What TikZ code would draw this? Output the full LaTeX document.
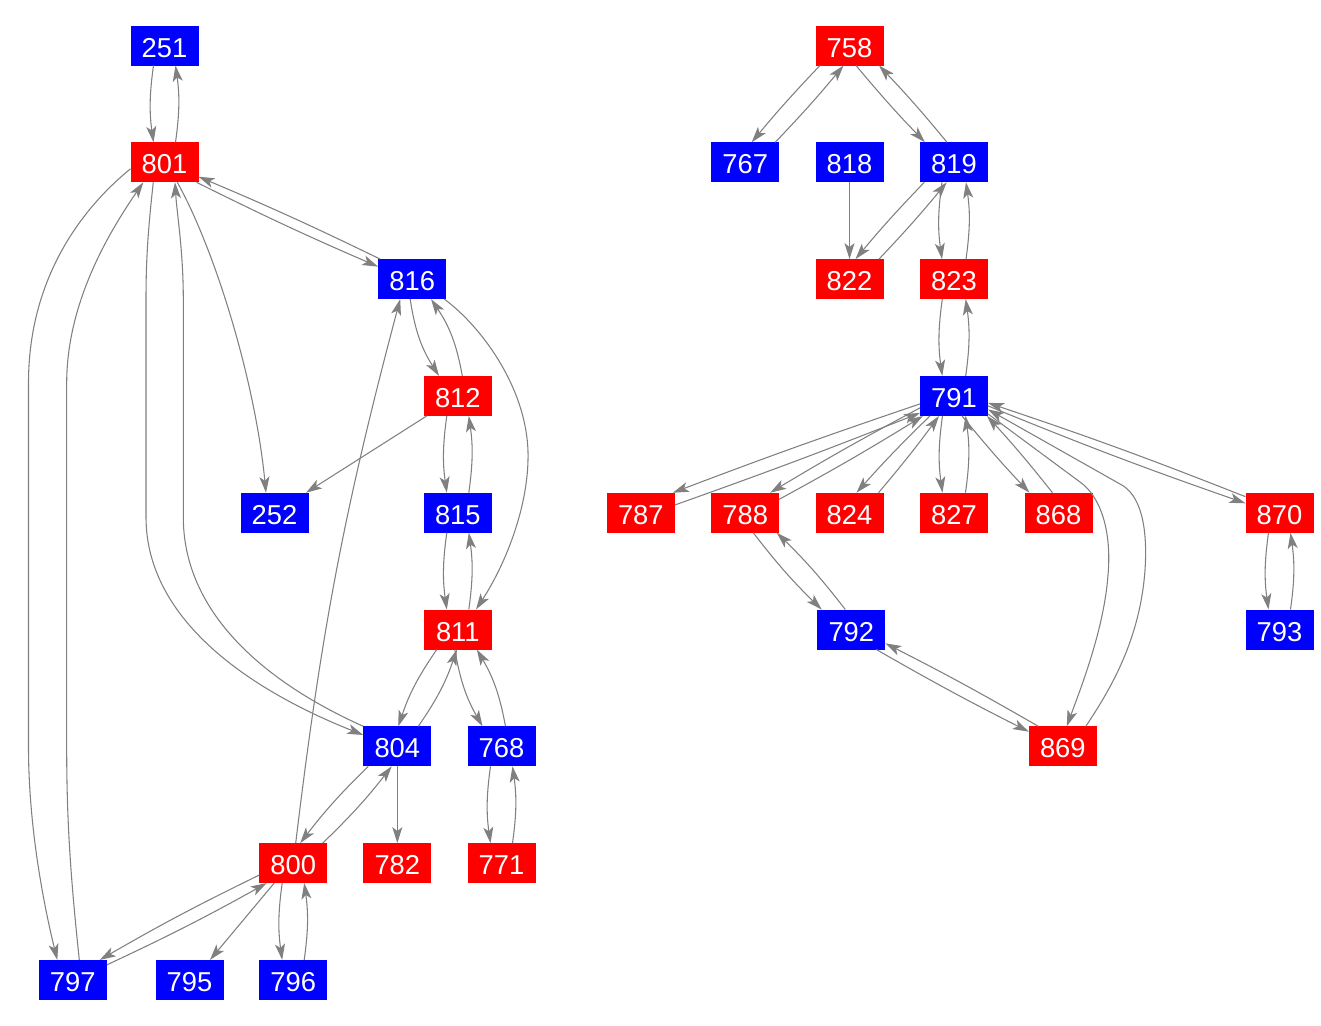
\documentclass[tikz,border=0pt]{standalone}
\usepackage{fontspec}
\setmainfont{Liberation Sans}
\usetikzlibrary{arrows.meta,calc}
\definecolor{edgegray}{RGB}{128,128,128}
\definecolor{nblue}{RGB}{0,0,255}
\definecolor{nred}{RGB}{255,0,0}
\begin{document}
\begin{tikzpicture}[x=0.75pt,y=0.75pt,
  nd/.style={minimum width=51pt, minimum height=30pt, inner sep=0pt, outer sep=0pt,
    text=white, font=\fontsize{20.5}{24}\selectfont, text height=17.3pt, text depth=0pt},
  bnode/.style={nd, fill=nblue},
  rnode/.style={nd, fill=nred},
  e/.style={draw=edgegray, line width=0.8pt,
    -{Stealth[length=12pt,width=7.5pt,inset=3pt]}}]
\useasboundingbox (0,0) rectangle (1321,-1025);
% ---------- left component ----------
\node[bnode] (n251) at (164.5,-45.5) {251};
\node[rnode] (n801) at (164.5,-162.3) {801};
\node[bnode] (n816) at (412.2,-279.1) {816};
\node[rnode] (n812) at (457.8,-395.9) {812};
\node[bnode] (n252) at (274.5,-512.7) {252};
\node[bnode] (n815) at (457.8,-512.7) {815};
\node[rnode] (n811) at (457.8,-629.5) {811};
\node[bnode] (n804) at (397.3,-746.3) {804};
\node[bnode] (n768) at (501.5,-746.3) {768};
\node[rnode] (n800) at (293.2,-863.1) {800};
\node[rnode] (n782) at (397.3,-863.1) {782};
\node[rnode] (n771) at (501.5,-863.1) {771};
\node[bnode] (n797) at (72.8,-979.9) {797};
\node[bnode] (n795) at (189.5,-979.9) {795};
\node[bnode] (n796) at (293.2,-979.9) {796};
% ---------- right component ----------
\node[rnode] (n758) at (849.5,-45.5) {758};
\node[bnode] (n767) at (745.2,-162.3) {767};
\node[bnode] (n818) at (849.5,-162.3) {818};
\node[bnode] (n819) at (954,-162.3) {819};
\node[rnode] (n822) at (849.5,-279.1) {822};
\node[rnode] (n823) at (954,-279.1) {823};
\node[bnode] (n791) at (954,-395.9) {791};
\node[rnode] (n787) at (640.8,-512.7) {787};
\node[rnode] (n788) at (745.2,-512.7) {788};
\node[rnode] (n824) at (849.5,-512.7) {824};
\node[rnode] (n827) at (954,-512.7) {827};
\node[rnode] (n868) at (1058.5,-512.7) {868};
\node[rnode] (n870) at (1279.5,-512.7) {870};
\node[bnode] (n792) at (851.3,-629.5) {792};
\node[bnode] (n793) at (1279.5,-629.5) {793};
\node[rnode] (n869) at (1062.8,-746.3) {869};

% ---------- vertical pairs ----------
\foreach \a/\b/\d in {n251/n801/11, n812/n815/11, n815/n811/11, n768/n771/11,
                      n800/n796/11, n819/n823/12, n823/n791/11.7, n791/n827/11.5, n870/n793/11}{
  \draw[e] ($(\a)+(-\d,-20)$) to[bend right=8] ($(\b)+(-\d,20)$);
  \draw[e] ($(\b)+(\d,20)$) to[bend right=8] ($(\a)+(\d,-20)$);
}

% ---------- left component edges ----------
\draw[e] ($(n801)+(32,-20)$) to[bend right=1.5] ($(n816)+(-34,12.4)$);
\draw[e] ($(n816)+(-32,20)$) to[bend right=1.5] ($(n801)+(34,-14.4)$);
\draw[e] ($(n801)+(12.8,-20)$) .. controls (215,-250) and (255,-380) .. ($(n252)+(-8.5,20)$);
\draw[e] ($(n801)+(-34,-6.5)$) .. controls (80,-210) and (28.5,-280) .. (28.5,-383)
   -- (28.5,-747) .. controls (28.5,-830) and (45,-910) .. ($(n797)+(-15.5,20)$);
\draw[e] ($(n797)+(6.5,20)$) .. controls (72,-890) and (66.7,-830) .. (66.7,-750)
   -- (66.7,-383) .. controls (66.7,-300) and (112,-228) .. ($(n801)+(-21.2,-20)$);
\draw[e] ($(n801)+(-11.2,-20)$) .. controls (148,-230) and (146,-260) .. (146,-300)
   -- (146,-517) .. controls (146,-620) and (250,-690) .. ($(n804)+(-34,11.3)$);
\draw[e] ($(n804)+(-34,20)$) .. controls (260,-680) and (183.3,-610) .. (183.3,-517)
   -- (183.3,-300) .. controls (183.3,-250) and (177,-215) .. ($(n801)+(10.5,-20)$);
\draw[e] ($(n816)+(-2,-20)$) to[bend right=12] ($(n812)+(-18.8,20)$);
\draw[e] ($(n812)+(4.5,20)$) to[bend right=12] ($(n816)+(18.8,-20)$);
\draw[e] ($(n812)+(-31,-20)$) -- ($(n252)+(31.5,20)$);
\draw[e] ($(n816)+(32,-20)$) .. controls (480,-325) and (530,-390) .. (528,-460)
   .. controls (527,-510) and (505,-565) .. ($(n811)+(18.2,20)$);
\draw[e] ($(n811)+(-21,-20)$) to[bend right=8] ($(n804)+(1,20)$);
\draw[e] ($(n804)+(21,20)$) to[bend right=8] ($(n811)+(-1,-20)$);
\draw[e] ($(n811)+(-3,-20)$) to[bend right=10] ($(n768)+(-19,20)$);
\draw[e] ($(n768)+(4,20)$) to[bend right=10] ($(n811)+(19,-20)$);
\draw[e] (n804.south) -- (n782.north);
\draw[e] ($(n804)+(-29,-20)$) to[bend right=4] ($(n800)+(7,20)$);
\draw[e] ($(n800)+(29.5,20)$) to[bend right=4] ($(n804)+(-5.6,-20)$);
\draw[e] ($(n800)+(2.5,20)$) to[bend left=4] ($(n816)+(-12,-20)$);
\draw[e] ($(n800)+(-34,-12)$) to[bend right=2] ($(n797)+(27,20)$);
\draw[e] ($(n797)+(34,15)$) to[bend right=2] ($(n800)+(-26.5,-20)$);
\draw[e] ($(n800)+(-19,-20)$) -- ($(n795)+(20.5,20)$);

% ---------- right component edges ----------
\draw[e] ($(n758)+(-29.5,-20)$) to[bend right=2] ($(n767)+(6.5,20)$);
\draw[e] ($(n767)+(30,20)$) to[bend right=2] ($(n758)+(-6,-20)$);
\draw[e] ($(n758)+(6.5,-20)$) to[bend right=2] ($(n819)+(-29,20)$);
\draw[e] ($(n819)+(-7,20)$) to[bend right=2] ($(n758)+(29.5,-20)$);
\draw[e] (n818.south) -- (n822.north);
\draw[e] ($(n819)+(-29.7,-20)$) to[bend right=2] ($(n822)+(6,20)$);
\draw[e] ($(n822)+(29.5,20)$) to[bend right=2] ($(n819)+(-7.3,-20)$);
\draw[e] ($(n791)+(-34,-8)$) to[bend right=1] ($(n787)+(32,20)$);
\draw[e] ($(n787)+(34,7.7)$) to[bend right=1] ($(n791)+(-34,-17)$);
\draw[e] ($(n791)+(-34,-12)$) to[bend right=1.5] ($(n788)+(25,20)$);
\draw[e] ($(n788)+(34,13.4)$) to[bend right=1.5] ($(n791)+(-31,-20)$);
\draw[e] ($(n791)+(-24,-20)$) to[bend right=2] ($(n824)+(7,20)$);
\draw[e] ($(n824)+(29,20)$) to[bend right=2] ($(n791)+(-15,-20)$);
\draw[e] ($(n791)+(8,-20)$) to[bend right=2] ($(n868)+(-29,20)$);
\draw[e] ($(n868)+(-6,20)$) to[bend right=2] ($(n791)+(33,-20)$);
\draw[e] ($(n791)+(34,-10)$) to[bend right=1.5] ($(n870)+(-34,9.4)$);
\draw[e] ($(n870)+(-34,16)$) to[bend right=1.5] ($(n791)+(34,-7)$);
\draw[e] ($(n791)+(34,-18)$) -- (1080,-482) .. controls (1100,-496) and (1112,-530) .. (1108,-575)
   .. controls (1104,-630) and (1080,-690) .. ($(n869)+(4,20)$);
\draw[e] ($(n869)+(23,20)$) .. controls (1110,-690) and (1140,-640) .. (1145,-570)
   .. controls (1148,-525) and (1140,-494) .. (1120,-484) -- ($(n791)+(34,-13.5)$);
\draw[e] ($(n788)+(8,-20)$) to[bend right=4] ($(n792)+(-29.6,20)$);
\draw[e] ($(n792)+(-6,20)$) to[bend right=4] ($(n788)+(31.5,-20)$);
\draw[e] ($(n792)+(25,-20)$) to[bend right=1.5] ($(n869)+(-34,14.6)$);
\draw[e] ($(n869)+(-24.5,20)$) to[bend right=1.5] ($(n792)+(34,-13.8)$);
\end{tikzpicture}
\end{document}
